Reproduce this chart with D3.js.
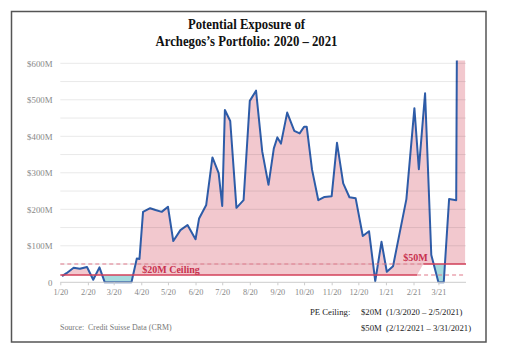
<!DOCTYPE html>
<html>
<head>
<meta charset="utf-8">
<script src="https://cdn.jsdelivr.net/npm/d3@7"></script>
<style>
  html, body { margin: 0; padding: 0; background: #fff; }
  svg { display: block; }
  text { font-family: "Liberation Serif", "Times New Roman", serif; }
</style>
</head>
<body>
<svg id="chart" width="505" height="356"></svg>
<script>
// ---------- data ----------
const titleLines = ["Potential Exposure of", "Archegos\u2019s Portfolio: 2020 \u2013 2021"];

const dates = [
  "2020-01-03","2020-01-08","2020-01-16","2020-01-23","2020-01-31","2020-02-07","2020-02-14","2020-02-20",
  "2020-03-21","2020-03-27","2020-03-30","2020-04-03","2020-04-11","2020-04-17","2020-04-24","2020-05-01",
  "2020-05-07","2020-05-15","2020-05-23","2020-06-01","2020-06-05","2020-06-13","2020-06-20","2020-06-27",
  "2020-07-01","2020-07-04","2020-07-10","2020-07-17","2020-07-25","2020-08-01","2020-08-08","2020-08-15",
  "2020-08-22","2020-08-28","2020-09-01","2020-09-05","2020-09-12","2020-09-20","2020-09-26","2020-10-01",
  "2020-10-04","2020-10-10","2020-10-17","2020-10-24","2020-11-01","2020-11-07","2020-11-14","2020-11-21",
  "2020-11-28","2020-12-06","2020-12-13","2020-12-20","2020-12-27","2021-01-02","2021-01-09","2021-01-16",
  "2021-01-24","2021-02-02","2021-02-07","2021-02-14","2021-02-21","2021-03-01","2021-03-07","2021-03-13",
  "2021-03-21","2021-03-26","2021-03-31"
];
// potential exposure, $M (last two run far off the top of the chart)
const exposure = [
  17, 25, 40, 37, 42, 7, 41, 0,
  0, 65, 64, 193, 203, 198, 193, 207,
  113, 143, 157, 118, 175, 212, 342, 299,
  209, 472, 442, 204, 225, 497, 525, 358,
  267, 367, 397, 380, 465, 415, 408, 426,
  426, 308, 225, 234, 236, 382, 271, 233,
  230, 127, 140, 3, 111, 29, 44, 130,
  228, 477, 310, 518, 75, 0, 0, 228,
  225, 3000, 3000
];

// PE ceiling schedule
const ceilingDates  = ["2020-01-01", "2021-02-05", "2021-02-12", "2021-04-01"];
const ceilingValues = [20, 20, 50, 50];

const yTicks = [0, 100, 200, 300, 400, 500, 600];
const gridValues = [50, 100, 150, 200, 250, 300, 350, 400, 450, 500, 550, 600];
const xDomain = ["2020-01-01", "2021-04-01"];
const yTop = 608;

const noteLabel = "PE Ceiling:";
const noteLines = ["$20M\u00a0 (1/3/2020 \u2013 2/5/2021)", "$50M\u00a0 (2/12/2021 \u2013 3/31/2021)"];
const sourceText = "Source:\u00a0 Credit Suisse Data (CRM)";

// ---------- setup ----------
const parse = d3.timeParse("%Y-%m-%d");
const series = dates.map((d, i) => ({ date: parse(d), v: exposure[i] }));
const ceiling = ceilingDates.map((d, i) => ({ date: parse(d), v: ceilingValues[i] }));

const svg = d3.select("#chart");
const x = d3.scaleTime().domain(xDomain.map(parse)).range([60.3, 466]);
const y = d3.scaleLinear().domain([0, 600]).range([282.3, 63.3]);
const x0 = x.range()[0], x1 = x.range()[1];

const defs = svg.append("defs");
defs.append("clipPath").attr("id", "plotClip")
  .append("rect").attr("x", x0).attr("y", y(yTop)).attr("width", x1 - x0).attr("height", y(0) - y(yTop) + 3);

const cx = d => x(d.date), cy = d => y(d.v);
const ceilLine = ceiling.map(d => [cx(d), cy(d)]);
// region above the ceiling
defs.append("clipPath").attr("id", "aboveCeil").append("path")
  .attr("d", "M" + [[x0, 0], [x1, 0]].concat(ceilLine.slice().reverse()).map(p => p.join(",")).join("L") + "Z");
// region between 0 and the ceiling
defs.append("clipPath").attr("id", "belowCeil").append("path")
  .attr("d", "M" + ceilLine.concat([[x1, y(0)], [x0, y(0)]]).map(p => p.join(",")).join("L") + "Z");

// border
svg.append("rect").attr("x", 11.5).attr("y", 11.5).attr("width", 474.5).attr("height", 330.5)
  .attr("fill", "none").attr("stroke", "#555").attr("stroke-width", 1.5);

// title
svg.selectAll(".title").data(titleLines).enter().append("text")
  .attr("x", 246.5).attr("y", (d, i) => 29 + i * 16.5)
  .attr("text-anchor", "middle").attr("font-size", 14).attr("font-weight", "bold").attr("fill", "#111")
  .attr("textLength", (d, i) => i === 0 ? 117 : 182).attr("lengthAdjust", "spacingAndGlyphs")
  .text(d => d);

// fills
const plot = svg.append("g").attr("clip-path", "url(#plotClip)");
plot.append("path").datum(series)
  .attr("clip-path", "url(#aboveCeil)")
  .attr("fill", "#f2c8ce")
  .attr("d", d3.area().x(cx).y0(y(0)).y1(cy));
plot.append("path").datum(series)
  .attr("clip-path", "url(#belowCeil)")
  .attr("fill", "#a6dbde")
  .attr("d", d3.area().x(cx).y0(0).y1(cy));

// gridlines
svg.append("g").selectAll("line").data(gridValues).enter().append("line")
  .attr("x1", x0).attr("x2", x1).attr("y1", d => y(d)).attr("y2", d => y(d))
  .attr("stroke", "rgba(0,0,0,0.09)").attr("stroke-width", 1);

// axes
const yAxis = svg.append("g").attr("transform", `translate(52.5,0)`)
  .call(d3.axisLeft(y).tickValues(yTicks).tickSize(0).tickPadding(0)
    .tickFormat(d => d === 0 ? "0" : "$" + d + "M"));
yAxis.select(".domain").remove();
yAxis.selectAll("text").attr("font-family", "Liberation Serif").attr("font-size", 8.8).attr("fill", "#888");

const xAxis = svg.append("g").attr("transform", `translate(0,${y(0)})`)
  .call(d3.axisBottom(x).ticks(d3.timeMonth.every(1)).tickSize(3).tickPadding(4)
    .tickFormat(d3.timeFormat("%-m/%y")));
xAxis.select(".domain").attr("stroke", "#ccc").attr("d", `M${x0},0H${x1}`);
xAxis.selectAll(".tick line").attr("stroke", "#ccc");
xAxis.selectAll("text").attr("font-family", "Liberation Serif").attr("font-size", 8.3).attr("fill", "#888");
xAxis.selectAll(".tick").filter(d => +d === +x.domain()[1]).remove();

// ceiling lines
const lineGen = d3.line().x(cx).y(cy);
const seg = (a, b, v) => [{ date: parse(a), v }, { date: parse(b), v }];
const solidRed = "#d3405a", dashRed = "#e0788a";
svg.append("path").datum(seg(ceilingDates[0], ceilingDates[1], 20)).attr("d", lineGen)
  .attr("fill", "none").attr("stroke", solidRed).attr("stroke-width", 1.6);
svg.append("path").datum(seg(ceilingDates[1], ceilingDates[3], 20)).attr("d", lineGen)
  .attr("fill", "none").attr("stroke", dashRed).attr("stroke-width", 1.1).attr("stroke-dasharray", "4,3");
svg.append("path").datum(seg(ceilingDates[0], ceilingDates[2], 50)).attr("d", lineGen)
  .attr("fill", "none").attr("stroke", dashRed).attr("stroke-width", 1.1).attr("stroke-dasharray", "4,3");
svg.append("path").datum(seg(ceilingDates[2], ceilingDates[3], 50)).attr("d", lineGen)
  .attr("fill", "none").attr("stroke", solidRed).attr("stroke-width", 1.6);

// exposure line
plot.append("path").datum(series).attr("d", lineGen)
  .attr("fill", "none").attr("stroke", "#2e5ca8").attr("stroke-width", 2).attr("stroke-linejoin", "round");

// ceiling labels
svg.append("text").attr("x", x(parse("2020-04-01")) + 1).attr("y", y(20) - 2.5)
  .attr("font-size", 10).attr("font-weight", "bold").attr("fill", "#c8324e").text("$20M Ceiling");
svg.append("text").attr("x", x(parse("2021-02-12")) + 4.5).attr("y", y(50) - 3)
  .attr("text-anchor", "end").attr("font-size", 10).attr("font-weight", "bold").attr("fill", "#c8324e").text("$50M");

// notes
svg.append("text").attr("x", 310).attr("y", 314.5).attr("font-size", 8.7).attr("fill", "#222").text(noteLabel);
svg.selectAll(".note").data(noteLines).enter().append("text")
  .attr("x", 361).attr("y", (d, i) => 314.5 + i * 16)
  .attr("font-size", 8.7).attr("fill", "#222").text(d => d);
svg.append("text").attr("x", 60).attr("y", 330).attr("font-size", 7.9).attr("fill", "#777").text(sourceText);
</script>
</body>
</html>
